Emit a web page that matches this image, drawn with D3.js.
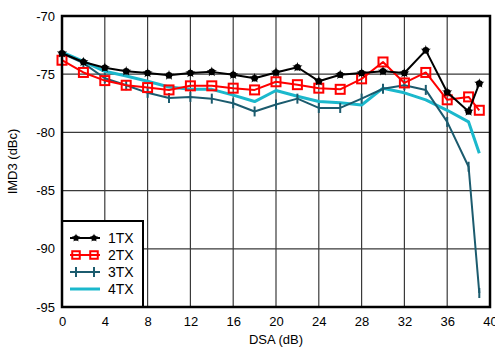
<!DOCTYPE html>
<html><head><meta charset="utf-8">
<script src="https://cdn.jsdelivr.net/npm/d3@7"></script>
<style>body{margin:0;background:#fff}svg{display:block}</style>
</head><body><svg id="c" width="495" height="348"></svg>
<script>
const xTicks = [0,4,8,12,16,20,24,28,32,36,40];
const yTicks = [-70,-75,-80,-85,-90,-95];
const dsa = [0,2,4,6,8,10,12,14,16,18,20,22,24,26,28,30,32,34,36,38,39];
const tx1 = [-73.2,-73.95,-74.45,-74.75,-74.9,-75.1,-74.9,-74.8,-75.05,-75.35,-74.85,-74.4,-75.6,-75.05,-74.9,-74.75,-74.9,-72.95,-76.55,-78.2,-75.8];
const tx2 = [-73.8,-74.85,-75.55,-75.95,-76.15,-76.35,-76.0,-76.0,-76.2,-76.35,-75.65,-75.9,-76.2,-76.3,-75.4,-73.95,-75.75,-74.85,-77.2,-76.95,-78.1];
const tx3 = [-73.2,-74.05,-75.35,-75.95,-76.6,-77.05,-76.95,-77.1,-77.5,-78.2,-77.6,-77.1,-77.9,-77.9,-77.1,-76.25,-75.95,-76.35,-79.1,-82.95,-93.8];
const tx4 = [-73.1,-73.9,-74.75,-75.15,-75.6,-76.1,-76.3,-76.3,-76.8,-77.35,-76.4,-76.9,-77.35,-77.45,-77.65,-76.2,-76.6,-77.2,-78.1,-79.1,-81.8];
const seriesNames = ["1TX","2TX","3TX","4TX"];
const colors = ["#000000","#ff0000","#1b5b6e","#1bb8cc"];

const svg = d3.select("#c");
const L=62,R=490,T=16,B=307;
const x = d3.scaleLinear().domain([0,40]).range([L,R]);
const y = d3.scaleLinear().domain([-95,-70]).range([B,T]);
const font = "Liberation Sans, Arial, sans-serif";

// grid
svg.append("g").selectAll("line").data(xTicks.slice(1,-1)).join("line")
  .attr("x1",d=>x(d)).attr("x2",d=>x(d)).attr("y1",T).attr("y2",B)
  .attr("stroke","#3a3a3a").attr("stroke-width",1.2);
svg.append("g").selectAll("line").data(yTicks.slice(1,-1)).join("line")
  .attr("y1",d=>y(d)).attr("y2",d=>y(d)).attr("x1",L).attr("x2",R)
  .attr("stroke","#3a3a3a").attr("stroke-width",1.2);

// axes labels
const xa = d3.axisBottom(x).tickValues(xTicks).tickSize(0).tickPadding(10);
svg.append("g").attr("transform",`translate(0,${B})`).call(xa)
  .call(g=>g.select(".domain").remove())
  .selectAll("text").attr("font-family",font).attr("font-size",13).attr("fill","#000");
const ya = d3.axisLeft(y).tickValues(yTicks).tickSize(0).tickPadding(7).tickFormat(d=>d);
svg.append("g").attr("transform",`translate(${L},0)`).call(ya)
  .call(g=>g.select(".domain").remove())
  .selectAll("text").attr("font-family",font).attr("font-size",13).attr("fill","#000");

svg.append("text").attr("x",(L+R)/2).attr("y",344).attr("text-anchor","middle")
  .attr("font-family",font).attr("font-size",13).text("DSA (dB)");
svg.append("text").attr("transform",`translate(17,${(T+B)/2}) rotate(-90)`).attr("text-anchor","middle")
  .attr("font-family",font).attr("font-size",13).text("IMD3 (dBc)");

const allData = [tx1,tx2,tx3,tx4];
const line = d3.line().x((d,i)=>x(dsa[i])).y(d=>y(d));
const plot = svg.append("g");
const order=[3,2,1,0];
const widths=[2,2,2,3];

function marker(g, k, cx, cy, scale){
  scale = scale||1;
  if(k===0){
    g.append("path").attr("d",d3.symbol(d3.symbolStar, 32*scale)()).attr("transform",`translate(${cx},${cy})`).attr("fill","#000");
    g.append("circle").attr("cx",cx).attr("cy",cy).attr("r",3.3*Math.sqrt(scale)).attr("fill","#000");
  } else if(k===1){
    const s=9*Math.sqrt(scale);
    g.append("rect").attr("x",cx-s/2).attr("y",cy-s/2).attr("width",s).attr("height",s)
      .attr("fill","none").attr("stroke","#ff0000").attr("stroke-width",2);
  } else if(k===2){
    g.append("line").attr("x1",cx).attr("x2",cx).attr("y1",cy-5).attr("y2",cy+5)
      .attr("stroke",colors[2]).attr("stroke-width",2);
  }
}

order.forEach(k=>{
  const g = plot.append("g");
  g.append("path").datum(allData[k]).attr("d",line).attr("fill","none")
    .attr("stroke",colors[k]).attr("stroke-width",widths[k]).attr("stroke-linejoin","round");
  if(k<3) allData[k].forEach((v,i)=>marker(g,k,x(dsa[i]),y(v)));
});

// legend
const lg = svg.append("g");
lg.append("rect").attr("x",L).attr("y",221).attr("width",81).attr("height",B-221)
  .attr("fill","#fff").attr("stroke","#000").attr("stroke-width",2);
seriesNames.forEach((n,k)=>{
  const ly = 238 + k*17;
  lg.append("line").attr("x1",70).attr("x2",100).attr("y1",ly).attr("y2",ly)
    .attr("stroke",colors[k]).attr("stroke-width",widths[k]);
  if(k<3){ marker(lg,k,76,ly,0.7); marker(lg,k,94,ly,0.7); }
  lg.append("text").attr("x",108).attr("y",ly+5).attr("font-family",font).attr("font-size",14).text(n);
});

// frame
svg.append("rect").attr("x",L).attr("y",T).attr("width",R-L).attr("height",B-T)
  .attr("fill","none").attr("stroke","#000").attr("stroke-width",2.5);
</script></body></html>
